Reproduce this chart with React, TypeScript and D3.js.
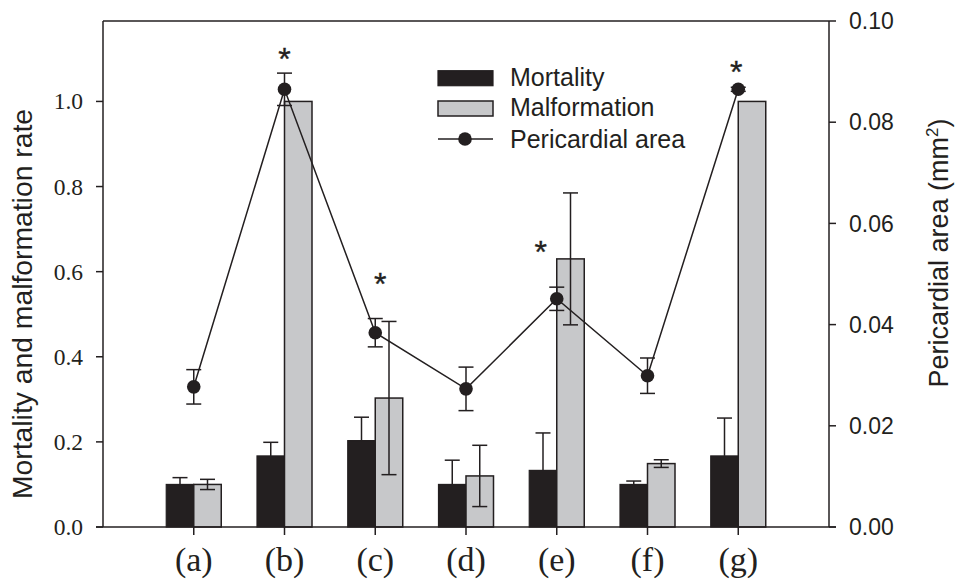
import React from 'react';
import * as d3 from 'd3';

const categories = ['(a)', '(b)', '(c)', '(d)', '(e)', '(f)', '(g)'];
const mortality = [0.1, 0.167, 0.203, 0.1, 0.133, 0.1, 0.167];
const mortalityErr = [0.016, 0.032, 0.055, 0.057, 0.088, 0.008, 0.089];
const malformation = [0.1, 1.0, 0.303, 0.12, 0.63, 0.149, 1.0];
const malformationErr = [0.012, 0, 0.18, 0.072, 0.155, 0.009, 0];
const pericardial = [0.0277, 0.0865, 0.0384, 0.0273, 0.0451, 0.0299, 0.0865];
const pericardialErr = [0.0034, 0.0032, 0.0028, 0.0043, 0.0023, 0.0035, 0.0004];

// significance marks: category, height in right-axis units, small x nudge
const sigCats = ['(b)', '(c)', '(e)', '(g)'];
const sigLevel = [0.0938, 0.0494, 0.0558, 0.0914];
const sigNudge = [0, 5, -16, -2];

const leftTicks = [0, 0.2, 0.4, 0.6, 0.8, 1.0];
const rightTicks = [0, 0.02, 0.04, 0.06, 0.08, 0.1];

const W = 957;
const H = 583;
const margin = { top: 21, right: 128, bottom: 56, left: 103 };
const x0 = margin.left;
const x1 = W - margin.right;
const y0 = H - margin.bottom;
const y1 = margin.top;

const DARK = '#231f20';
const GREY = '#c7c8ca';
const SANS = 'Liberation Sans, Arial, sans-serif';
const SERIF = 'Liberation Serif, Times New Roman, serif';

export default function App() {
  const x = d3.scalePoint<string>().domain(categories).range([x0, x1]).padding(1);
  const yL = d3.scaleLinear().domain([0, 1.189]).range([y0, y1]);
  const yR = d3.scaleLinear().domain([0, 0.1]).range([y0, y1]);
  const barW = 27.5;
  const cap = 7.5;

  const line = d3
    .line<number>()
    .x((_, i) => x(categories[i])!)
    .y((d) => yR(d));

  return (
    <svg width={W} height={H} style={{ position: 'absolute', left: 0, top: 0, background: '#fff' }}>
      {/* bars */}
      {categories.map((c, i) => {
        const cx = x(c)!;
        return (
          <g key={c}>
            <rect x={cx - barW} y={yL(mortality[i])} width={barW} height={y0 - yL(mortality[i])} fill={DARK} stroke={DARK} strokeWidth={1.2} />
            <rect x={cx} y={yL(malformation[i])} width={barW} height={y0 - yL(malformation[i])} fill={GREY} stroke={DARK} strokeWidth={1.5} />
          </g>
        );
      })}

      {/* error bars */}
      {categories.map((c, i) => {
        const mx = x(c)! - barW / 2;
        const gx = x(c)! + barW / 2;
        const mTop = yL(mortality[i] + mortalityErr[i]);
        const gTop = yL(malformation[i] + malformationErr[i]);
        const gBot = yL(malformation[i] - malformationErr[i]);
        return (
          <g key={c} stroke={DARK} strokeWidth={1.5}>
            {mortalityErr[i] > 0 && (
              <>
                <line x1={mx} x2={mx} y1={yL(mortality[i])} y2={mTop} />
                <line x1={mx - cap} x2={mx + cap} y1={mTop} y2={mTop} />
              </>
            )}
            {malformationErr[i] > 0 && (
              <>
                <line x1={gx} x2={gx} y1={gBot} y2={gTop} />
                <line x1={gx - cap} x2={gx + cap} y1={gTop} y2={gTop} />
                <line x1={gx - cap} x2={gx + cap} y1={gBot} y2={gBot} />
              </>
            )}
          </g>
        );
      })}

      {/* pericardial area line */}
      <path d={line(pericardial)!} fill="none" stroke={DARK} strokeWidth={1.5} />
      {categories.map((c, i) => {
        const cx = x(c)!;
        const t = yR(pericardial[i] + pericardialErr[i]);
        const b = yR(pericardial[i] - pericardialErr[i]);
        return (
          <g key={c} stroke={DARK} strokeWidth={1.5}>
            <line x1={cx} x2={cx} y1={b} y2={t} />
            <line x1={cx - cap} x2={cx + cap} y1={t} y2={t} />
            <line x1={cx - cap} x2={cx + cap} y1={b} y2={b} />
            <circle cx={cx} cy={yR(pericardial[i])} r={6.8} fill={DARK} stroke="none" />
          </g>
        );
      })}

      {/* asterisks */}
      {sigCats.map((c, i) => (
        <text key={c} x={x(c)! + sigNudge[i]} y={yR(sigLevel[i]) + 18} textAnchor="middle" fontFamily={SANS} fontSize={32} fill={DARK} stroke={DARK} strokeWidth={0.4}>
          *
        </text>
      ))}

      {/* frame and axes */}
      <g stroke={DARK} strokeWidth={1.5} fill="none">
        <line x1={x0} x2={x1} y1={y1} y2={y1} />
        <line x1={x0} x2={x0} y1={y1} y2={y0} />
        <line x1={x1} x2={x1} y1={y1} y2={y0} />
        <line x1={x0 - 7} x2={x1 + 7} y1={y0} y2={y0} />
      </g>

      {leftTicks.map((t) => (
        <g key={t} transform={`translate(${x0},${yL(t)})`}>
          <line x1={-7} x2={0} stroke={DARK} strokeWidth={1.5} />
          <text x={-20} dy="0.34em" textAnchor="end" fontFamily={SERIF} fontSize={23.5} fill={DARK}>
            {d3.format('.1f')(t)}
          </text>
        </g>
      ))}

      {rightTicks.map((t) => (
        <g key={t} transform={`translate(${x1},${yR(t)})`}>
          <line x1={0} x2={7} stroke={DARK} strokeWidth={1.5} />
          <text x={20} dy="0.36em" textAnchor="start" fontFamily={SANS} fontSize={23} fill={DARK}>
            {d3.format('.2f')(t)}
          </text>
        </g>
      ))}

      {categories.map((c) => (
        <g key={c} transform={`translate(${x(c)},${y0})`}>
          <line y1={0} y2={8} stroke={DARK} strokeWidth={1.5} />
          <text y={44} textAnchor="middle" fontFamily={SERIF} fontSize={34} fill={DARK}>
            {c}
          </text>
        </g>
      ))}

      {/* axis titles */}
      <text transform={`translate(32,${(500 + 108) / 2}) rotate(-90)`} textAnchor="middle" fontFamily={SANS} fontSize={28.3} fill={DARK}>
        Mortality and malformation rate
      </text>
      <text transform={`translate(948,${(393 + 113) / 2}) rotate(-90)`} textAnchor="middle" fontFamily={SANS} fontSize={27} fill={DARK}>
        Pericardial area (mm<tspan dy={-10} fontSize={17}>2</tspan><tspan dy={10}>)</tspan>
      </text>

      {/* legend */}
      <g fontFamily={SANS} fontSize={25} fill={DARK}>
        <rect x={438} y={70.7} width={55} height={15} fill={DARK} stroke={DARK} strokeWidth={1.2} />
        <text x={510} y={85.7}>Mortality</text>
        <rect x={438} y={101} width={55} height={15} fill={GREY} stroke={DARK} strokeWidth={1.5} />
        <text x={510} y={116}>Malformation</text>
        <line x1={438} x2={493} y1={139} y2={139} stroke={DARK} strokeWidth={1.5} />
        <circle cx={465} cy={139} r={6.8} fill={DARK} />
        <text x={510} y={147.7}>Pericardial area</text>
      </g>
    </svg>
  );
}
